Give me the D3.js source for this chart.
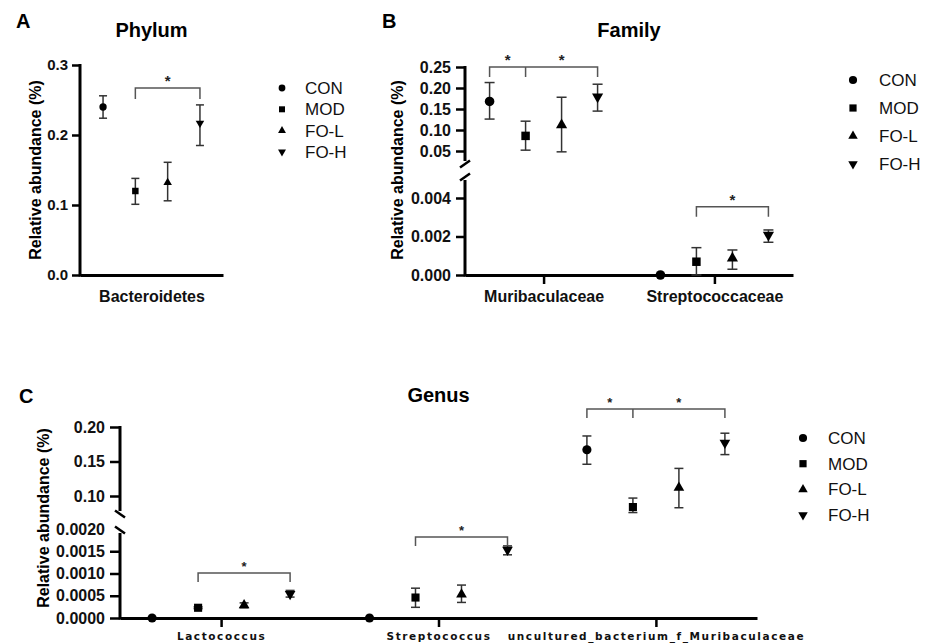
<!DOCTYPE html>
<html>
<head>
<meta charset="utf-8">
<script src="https://cdn.jsdelivr.net/npm/d3@7"></script>
<style>
body { margin: 0; background: #fff; }
svg { font-family: "Liberation Sans", Arial, sans-serif; }
</style>
</head>
<body>
<div id="chart"></div>
<script>
var groups = ["CON", "MOD", "FO-L", "FO-H"];
var groupSymbols = [d3.symbolCircle, d3.symbolSquare, d3.symbolTriangle, d3.symbolTriangle];
var groupFlip = [false, false, false, true];

// A - phylum
var phylumCats = ["Bacteroidetes"];
var phylumMean = [[0.240, 0.120, 0.132, 0.217]];
var phylumLow  = [[0.224, 0.101, 0.106, 0.185]];
var phylumHigh = [[0.256, 0.138, 0.161, 0.243]];
var phylumTicks = [0, 0.1, 0.2, 0.3];
var phylumSig = [{cat: "Bacteroidetes", legs: ["MOD", "FO-H"], y: 0.267}];

// B - family
var familyCats = ["Muribaculaceae", "Streptococcaceae"];
var familyMean = [[0.168, 0.086, 0.112, 0.179], [0, 0.00069, 0.00087, 0.00208]];
var familyLow  = [[0.126, 0.052, 0.048, 0.145], [0, 0.0000, 0.0003, 0.0017]];
var familyHigh = [[0.213, 0.121, 0.178, 0.209], [0, 0.00142, 0.0013, 0.00234]];
var familyLowTicks = [0, 0.002, 0.004];
var familyUpTicks = [0.05, 0.10, 0.15, 0.20, 0.25];
var familySig = [
  {cat: "Muribaculaceae", legs: ["CON", "MOD", "FO-H"], y: 0.25},
  {cat: "Streptococcaceae", legs: ["MOD", "FO-H"], y: 0.00355}
];

// C - genus
var genusCats = ["Lactococcus", "Streptococcus", "uncultured_bacterium_f_Muribaculaceae"];
var genusMean = [[0, 0.00023, 0.00029, 0.00054], [0, 0.00046, 0.00053, 0.00153], [0.167, 0.084, 0.112, 0.177]];
var genusLow  = [[0, 0.00021, 0.00023, 0.00047], [0, 0.00024, 0.00035, 0.00142], [0.146, 0.076, 0.083, 0.160]];
var genusHigh = [[0, 0.00025, 0.00034, 0.00062], [0, 0.00067, 0.00074, 0.00162], [0.187, 0.097, 0.140, 0.191]];
var genusLowTicks = [0, 0.0005, 0.0010, 0.0015, 0.0020];
var genusUpTicks = [0.10, 0.15, 0.20];
var genusSig = [
  {cat: "Lactococcus", legs: ["MOD", "FO-H"], y: 0.00101},
  {cat: "Streptococcus", legs: ["MOD", "FO-H"], y: 0.00182},
  {cat: "uncultured_bacterium_f_Muribaculaceae", legs: ["CON", "MOD", "FO-H"], y: 0.226}
];

var svg = d3.select("#chart").append("svg")
    .attr("width", 929)
    .attr("height", 644);

function drawPanel(p) {
  var g = svg.append("g");
  var x = d3.scalePoint().domain(p.cats).range([p.left, p.right]).padding(p.pad);
  var gx = d3.scalePoint().domain(groups).range([-1.5 * p.step, 1.5 * p.step]);
  var yLow = d3.scaleLinear().domain(p.lowDomain).range(p.lowRange);
  var yUp = p.upDomain ? d3.scaleLinear().domain(p.upDomain).range(p.upRange) : null;
  var y = function(v) { return (yUp && v >= p.split) ? yUp(v) : yLow(v); };

  // y axes
  var la = g.append("g")
      .attr("transform", `translate(${p.left},0)`)
      .call(d3.axisLeft(yLow).tickValues(p.lowTicks).tickFormat(d3.format(p.lowFmt))
        .tickSize(p.tick).tickPadding(p.tickPad));
  la.select(".domain").remove();
  if (p.hideTick != null) la.selectAll(".tick").filter(d => d === p.hideTick).select("line").remove();
  g.append("line").attr("x1", p.left).attr("x2", p.left)
      .attr("y1", yLow(0) + 1.5).attr("y2", p.lowTop)
      .attr("stroke", "#000").attr("stroke-width", 3);

  if (yUp) {
    var ua = g.append("g")
        .attr("transform", `translate(${p.left},0)`)
        .call(d3.axisLeft(yUp).tickValues(p.upTicks).tickFormat(d3.format(p.upFmt))
          .tickSize(p.tick).tickPadding(p.tickPad));
    ua.select(".domain").remove();
    g.append("line").attr("x1", p.left).attr("x2", p.left)
        .attr("y1", yUp(p.upDomain[1]) - 1).attr("y2", p.upBottom)
        .attr("stroke", "#000").attr("stroke-width", 3);
    // break marks
    [p.upBottom + 3, p.lowTop - 3].forEach(function(by) {
      g.append("line")
          .attr("x1", p.left - 5).attr("x2", p.left + 5)
          .attr("y1", by + 3.5 * p.breakDir).attr("y2", by - 3.5 * p.breakDir)
          .attr("stroke", "#000").attr("stroke-width", 2.5);
    });
  }
  g.selectAll(".tick line").attr("stroke", "#000").attr("stroke-width", 2.5);
  g.selectAll(".tick text").attr("font-size", p.tickFont).attr("font-weight", "bold").attr("fill", "#111");

  // x axis
  var xa = g.append("g")
      .attr("transform", `translate(0,${yLow(0)})`)
      .call(d3.axisBottom(x).tickSize(p.xTick).tickSizeOuter(0).tickPadding(p.xPad));
  xa.select(".domain").attr("stroke", "#000").attr("stroke-width", 3);
  xa.selectAll(".tick line").attr("stroke", "#000").attr("stroke-width", 2.5);
  xa.selectAll(".tick text")
      .attr("font-size", p.xFont)
      .attr("font-weight", "bold")
      .attr("font-family", p.xFamily || null)
      .attr("letter-spacing", p.xSpacing || null)
      .attr("fill", "#111");

  // error bars and points
  p.cats.forEach(function(cat, i) {
    groups.forEach(function(gr, j) {
      var cx = x(cat) + gx(gr);
      var lo = p.low[i][j], hi = p.high[i][j];
      if (hi > lo) {
        g.append("line").attr("x1", cx).attr("x2", cx).attr("y1", y(lo)).attr("y2", y(hi))
            .attr("stroke", "#333").attr("stroke-width", 1.5);
        [lo, hi].forEach(function(v) {
          g.append("line").attr("x1", cx - p.cap / 2).attr("x2", cx + p.cap / 2)
              .attr("y1", y(v)).attr("y2", y(v))
              .attr("stroke", "#333").attr("stroke-width", 1.5);
        });
      }
      var isTri = groupSymbols[j] === d3.symbolTriangle;
      g.append("path")
          .attr("d", d3.symbol().type(groupSymbols[j]).size(isTri ? p.mark * 0.75 : p.mark)())
          .attr("transform", `translate(${cx},${y(p.mean[i][j])})` + (groupFlip[j] ? " rotate(180)" : ""))
          .attr("fill", "#000");
    });
  });

  // significance brackets
  p.sig.forEach(function(s) {
    var xs = s.legs.map(l => x(s.cat) + gx(l));
    var by = y(s.y);
    var d = `M${xs[0]},${by + p.leg}V${by}H${xs[xs.length - 1]}V${by + p.leg}`;
    xs.slice(1, -1).forEach(function(xm) { d += `M${xm},${by}V${by + p.leg}`; });
    g.append("path").attr("d", d).attr("fill", "none")
        .attr("stroke", "#555").attr("stroke-width", 1.5);
    for (var k = 0; k < xs.length - 1; k++) {
      g.append("text")
          .attr("x", (xs[k] + xs[k + 1]) / 2)
          .attr("y", by - 2)
          .attr("text-anchor", "middle")
          .attr("font-size", p.starFont)
          .attr("font-weight", "bold")
          .attr("fill", "#222")
          .text("*");
    }
  });

  // titles and labels
  g.append("text")
      .attr("x", (p.left + p.right) / 2).attr("y", p.titleY)
      .attr("text-anchor", "middle")
      .attr("font-size", 20).attr("font-weight", "bold")
      .text(p.title);
  g.append("text")
      .attr("x", p.letterX).attr("y", p.letterY)
      .attr("font-size", 20).attr("font-weight", "bold")
      .text(p.letter);
  g.append("text")
      .attr("transform", `translate(${p.ylabX},${p.ylabY}) rotate(-90)`)
      .attr("dy", "0.35em")
      .attr("text-anchor", "middle")
      .attr("font-size", 16).attr("font-weight", "bold")
      .text("Relative abundance (%)");

  // legend
  groups.forEach(function(gr, j) {
    var ly = p.legY + j * p.legDy;
    var isTri = groupSymbols[j] === d3.symbolTriangle;
    g.append("path")
        .attr("d", d3.symbol().type(groupSymbols[j]).size(isTri ? p.legMark * 0.75 : p.legMark)())
        .attr("transform", `translate(${p.legX},${ly})` + (groupFlip[j] ? " rotate(180)" : ""))
        .attr("fill", "#000");
    g.append("text")
        .attr("x", p.legX + p.legGap).attr("y", ly)
        .attr("dy", "0.35em")
        .attr("font-size", 17)
        .attr("fill", "#111")
        .text(gr);
  });
}

drawPanel({
  cats: phylumCats, mean: phylumMean, low: phylumLow, high: phylumHigh, sig: phylumSig,
  left: 80, right: 223, pad: 0.5, step: 32.3,
  lowDomain: [0, 0.3], lowRange: [275, 65], lowTicks: phylumTicks, lowFmt: ".1f",
  lowTop: 65 - 1,
  tick: 8, tickPad: 4, tickFont: 15,
  xTick: 0, xPad: 16, xFont: 16,
  cap: 8, mark: 42, leg: 11, starFont: 15,
  title: "Phylum", titleY: 37, letter: "A", letterX: 16, letterY: 28,
  ylabX: 35, ylabY: 170,
  legX: 282, legGap: 23, legY: 88, legDy: 21.3, legMark: 36
});

drawPanel({
  cats: familyCats, mean: familyMean, low: familyLow, high: familyHigh, sig: familySig,
  left: 465, right: 793, pad: 0.46, step: 36,
  lowDomain: [0, 0.004], lowRange: [275, 198], lowTicks: familyLowTicks, lowFmt: ".3f",
  upDomain: [0.05, 0.25], upRange: [151, 67], upTicks: familyUpTicks, upFmt: ".2f",
  split: 0.01, lowTop: 180, upBottom: 161, breakDir: 1,
  tick: 9, tickPad: 5, tickFont: 16,
  xTick: 9, xPad: 7, xFont: 16,
  cap: 10, mark: 72, leg: 10, starFont: 15,
  title: "Family", titleY: 37, letter: "B", letterX: 382, letterY: 28,
  ylabX: 397, ylabY: 170,
  legX: 853, legGap: 26, legY: 80, legDy: 28, legMark: 52
});

drawPanel({
  cats: genusCats, mean: genusMean, low: genusLow, high: genusHigh, sig: genusSig,
  left: 120, right: 757, pad: 0.465, step: 46,
  lowDomain: [0, 0.002], lowRange: [618, 529], lowTicks: genusLowTicks, lowFmt: ".4f",
  upDomain: [0.10, 0.20], upRange: [496, 427], upTicks: genusUpTicks, upFmt: ".2f",
  split: 0.01, lowTop: 533, upBottom: 511, breakDir: -1, hideTick: 0.002,
  tick: 10, tickPad: 5, tickFont: 16,
  xTick: 9, xPad: 6, xFont: 10.5, xFamily: "DejaVu Sans", xSpacing: 1.6,
  cap: 9, mark: 66, leg: 9, starFont: 13,
  title: "Genus", titleY: 402, letter: "C", letterX: 19, letterY: 403,
  ylabX: 43, ylabY: 518,
  legX: 803, legGap: 25, legY: 438, legDy: 25.7, legMark: 52
});
</script>
</body>
</html>
